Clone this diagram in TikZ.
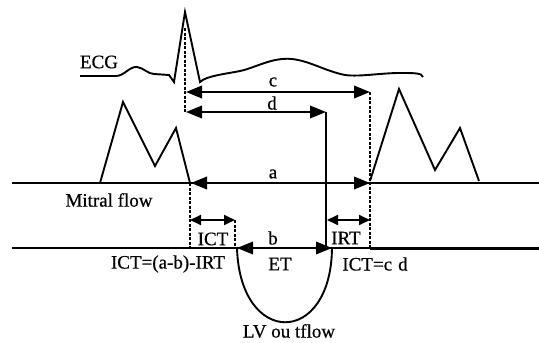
\documentclass[tikz,border=0pt]{standalone}
\usepackage{fontspec}
\setmainfont{Liberation Serif}[BoldFont=Liberation Serif,BoldFeatures={FakeBold=0.6}]
\usetikzlibrary{arrows.meta}
\begin{document}
\begin{tikzpicture}[x=1pt,y=-1pt,
  curve/.style={line width=1.9pt,line join=miter},
  base/.style={line width=2pt},
  dimbig/.style={line width=2pt,{Triangle[length=16pt,width=12.5pt]}-{Triangle[length=16pt,width=12.5pt]}},
  dimsmall/.style={line width=1.8pt,{Triangle[length=11pt,width=10pt]}-{Triangle[length=11pt,width=10pt]}},
  guide/.style={line width=1.2pt,dash pattern=on 3pt off 1.5pt},
  lbl/.style={font=\fontsize{19}{21}\selectfont\bfseries,inner sep=0pt}]
\useasboundingbox (0,0) rectangle (539,343);
% ECG trace
\draw[curve] (80,76) -- (116,76)
  .. controls (124,76) and (130,66) .. (137,67)
  .. controls (144,68) and (148,74) .. (154,74)
  -- (169,75) -- (174,82) -- (185,12) -- (200,82)
  .. controls (206,76) and (225,74) .. (240,71)
  .. controls (255,68) and (272,57) .. (292,59)
  .. controls (310,61) and (325,71) .. (345,75)
  .. controls (360,77) and (380,73) .. (400,73)
  .. controls (415,73) and (422,73) .. (423,77);
% mitral flow
\draw[curve] (100,183) -- (123,102) -- (155,166) -- (176,128) -- (190,183);
\draw[curve] (370,181) -- (399,89) -- (435,170) -- (460,128) -- (479,181);
% baselines
\coordinate (mL) at (12,183); \coordinate (mR) at (539,183);
\coordinate (lL) at (12,248); \coordinate (lR) at (539,248);
\draw[base] (mL) -- (mR);
\draw[base] (lL) -- (lR);
\draw[line width=3pt] (370,248) -- (lR);
\draw[line width=2.8pt] (160,248) -- (236,248);
% guide coordinates
\coordinate (c1) at (186,92);  \coordinate (c2) at (370,92);
\coordinate (d1) at (186,112); \coordinate (d2) at (326,112);
\coordinate (a1) at (191,183); \coordinate (a2) at (370,183);
\coordinate (b1) at (237,248); \coordinate (b2) at (332,248);
\coordinate (i1) at (190,220); \coordinate (i2) at (235,220);
\coordinate (r1) at (327,220); \coordinate (r2) at (370,220);
\coordinate (qtop) at (185,28);
\coordinate (m1low) at (190,247); \coordinate (m2low) at (370,247);
\coordinate (i2low) at (235,247); \coordinate (dlow) at (326,247);
% dashed guides
\draw[guide] (qtop) -- (d1 -| qtop);
\draw[guide] (a1 -| i1) -- (m1low);
\draw[guide] (c2) -- (m2low);
\draw[guide] (i2) -- (i2low);
% d end vertical
\draw[line width=2pt] (d2) -- (dlow);
% dimension arrows
\draw[dimbig] (c1) -- (c2);
\draw[dimbig] (d1) -- (d2);
\draw[dimbig] (a1) -- (a2);
\draw[dimbig] (b1) -- (b2);
\draw[dimsmall] (i1) -- (i2);
\draw[dimsmall] (r1) -- (r2);
% LV outflow
\draw[curve] (b1) .. controls (240,347) and (331,347) .. (b2);
% labels
\node[lbl] (tECG) at (99,62) {ECG};
\node[lbl] (tc) at (273,82) {c};
\node[lbl] (td) at (272,103) {d};
\node[lbl] (ta) at (273,174) {a};
\node[lbl] (tb) at (273,238) {b};
\node[lbl] (tmit) at (109,200) {Mitral flow};
\node[lbl] (tICT) at (213,239) {ICT};
\node[lbl] (tIRT) at (346,238) {IRT};
\node[lbl] (tET) at (280,264) {ET};
\node[lbl] (tf1) at (168,264) {ICT=(a-b)-IRT};
\node[lbl] (tf2) at (375,264) {ICT=c\hspace{6pt}d};
\node[lbl] (tLV) at (289,331) {LV ou tflow};
\end{tikzpicture}
\end{document}
